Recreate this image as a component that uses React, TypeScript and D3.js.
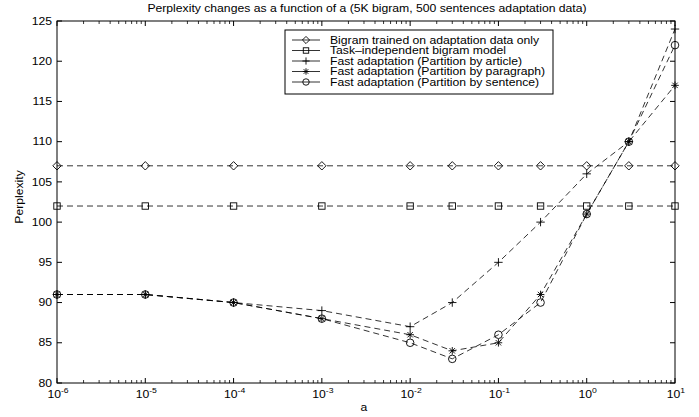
import React from "react";
import * as d3 from "d3";

const xValues = [1e-6, 1e-5, 1e-4, 1e-3, 1e-2, 3e-2, 1e-1, 3e-1, 1, 3, 10];
const bigramOnly = [107, 107, 107, 107, 107, 107, 107, 107, 107, 107, 107];
const taskIndep = [102, 102, 102, 102, 102, 102, 102, 102, 102, 102, 102];
const byArticle = [91, 91, 90, 89, 87, 90, 95, 100, 106, 110, 124];
const byParagraph = [91, 91, 90, 88, 86, 84, 85, 91, 101, 110, 117];
const bySentence = [91, 91, 90, 88, 85, 83, 86, 90, 101, 110, 122];
const seriesNames = [
  "Bigram trained on adaptation data only",
  "Task\u2013independent bigram model",
  "Fast adaptation (Partition by article)",
  "Fast adaptation (Partition by paragraph)",
  "Fast adaptation (Partition by sentence)",
];
const markerTypes = ["diamond", "square", "plus", "star", "circle"];
const yTicks = [80, 85, 90, 95, 100, 105, 110, 115, 120, 125];
const xExponents = [-6, -5, -4, -3, -2, -1, 0, 1];
const title = "Perplexity changes as a function of a (5K bigram, 500 sentences adaptation data)";

const L = 57, R = 675, T = 21, B = 383;
const FONT = "'Liberation Sans', Arial, Helvetica, sans-serif";
const SX = 1.15;

function Marker({ type, x, y, k = 1 }: { type: string; x: number; y: number; k?: number }) {
  const s = { fill: "none", stroke: "#000", strokeWidth: 0.9 } as any;
  if (type === "diamond") {
    const h = 4.2 * k;
    return <path d={`M${x},${y - h}L${x + h},${y}L${x},${y + h}L${x - h},${y}Z`} {...s} />;
  }
  if (type === "square") {
    const h = 3.2 * k;
    return <rect x={x - h} y={y - h} width={2 * h} height={2 * h} {...s} />;
  }
  if (type === "circle") {
    return <circle cx={x} cy={y} r={3.8 * k} {...s} />;
  }
  if (type === "plus") {
    const h = 4.2 * k;
    return <path d={`M${x - h},${y}H${x + h}M${x},${y - h}V${y + h}`} {...s} />;
  }
  const h = 3.8 * k, d = 2.7 * k;
  return (
    <path
      d={`M${x - h},${y}H${x + h}M${x},${y - h}V${y + h}M${x - d},${y - d}L${x + d},${y + d}M${x - d},${y + d}L${x + d},${y - d}`}
      {...s}
    />
  );
}

function SText({ x, y, children, anchor = "start", size = 10.6, rotate = false }: any) {
  const tr = rotate
    ? `translate(${x},${y}) rotate(-90) scale(${SX},1)`
    : `translate(${x},${y}) scale(${SX},1)`;
  return (
    <text transform={tr} textAnchor={anchor} fontSize={size} fontFamily={FONT} fill="#000">
      {children}
    </text>
  );
}

export default function App() {
  const x = d3.scaleLog().domain([1e-6, 10]).range([L, R]);
  const y = d3.scaleLinear().domain([80, 125]).range([B, T]);
  const series = [bigramOnly, taskIndep, byArticle, byParagraph, bySentence];
  const line = d3
    .line<number>()
    .x((_, i) => x(xValues[i]))
    .y((v) => y(v));

  const minor: number[] = [];
  for (let e = -6; e < 1; e++) for (let k = 2; k <= 9; k++) minor.push(k * Math.pow(10, e));

  const legX = 285, legY = 30, legW = 268, legH = 64;
  const rowY = (i: number) => legY + 10 + i * 10.5;

  return (
    <svg width={699} height={417} style={{ position: "absolute", left: 0, top: 0, background: "#fff" }}>
      <rect x={0} y={0} width={699} height={417} fill="#fff" />
      <SText x={367} y={12} anchor="middle">{title}</SText>

      {series.map((vals, si) => (
        <g key={si}>
          <path d={line(vals) || ""} fill="none" stroke="#000" strokeWidth={0.8} strokeDasharray="6,4" />
          {vals.map((v, i) => (
            <Marker key={i} type={markerTypes[si]} x={x(xValues[i])} y={y(v)} />
          ))}
        </g>
      ))}

      <rect x={L} y={T} width={R - L} height={B - T} fill="none" stroke="#000" strokeWidth={1} />

      {yTicks.map((t) => (
        <g key={t}>
          <line x1={L} x2={L + 5} y1={y(t)} y2={y(t)} stroke="#000" />
          <line x1={R} x2={R - 5} y1={y(t)} y2={y(t)} stroke="#000" />
          <SText x={52} y={y(t) + 3.7} anchor="end">{t}</SText>
        </g>
      ))}

      {xExponents.map((e) => {
        const px = x(Math.pow(10, e));
        return (
          <g key={e}>
            <line x1={px} x2={px} y1={B} y2={B - 5} stroke="#000" />
            <line x1={px} x2={px} y1={T} y2={T + 5} stroke="#000" />
            <text
              transform={`translate(${px + 1},${398}) scale(${SX},1)`}
              textAnchor="middle"
              fontSize={10.6}
              fontFamily={FONT}
            >
              10
              <tspan fontSize={7.5} dy={-5}>{e}</tspan>
            </text>
          </g>
        );
      })}
      {minor.map((m, i) => {
        const px = x(m);
        return (
          <g key={i}>
            <line x1={px} x2={px} y1={B} y2={B - 3} stroke="#000" strokeWidth={0.8} />
            <line x1={px} x2={px} y1={T} y2={T + 3} stroke="#000" strokeWidth={0.8} />
          </g>
        );
      })}

      <SText x={364} y={411} anchor="middle">a</SText>
      <SText x={23} y={197} anchor="middle" rotate>Perplexity</SText>

      <rect x={legX} y={legY} width={legW} height={legH} fill="#fff" stroke="#000" strokeWidth={1} />
      {seriesNames.map((n, i) => (
        <g key={i}>
          <line x1={legX + 7} x2={legX + 35} y1={rowY(i)} y2={rowY(i)} stroke="#000" strokeWidth={0.8} />
          <Marker type={markerTypes[i]} x={legX + 21} y={rowY(i)} k={0.85} />
          <SText x={legX + 45} y={rowY(i) + 3.8}>{n}</SText>
        </g>
      ))}
    </svg>
  );
}
